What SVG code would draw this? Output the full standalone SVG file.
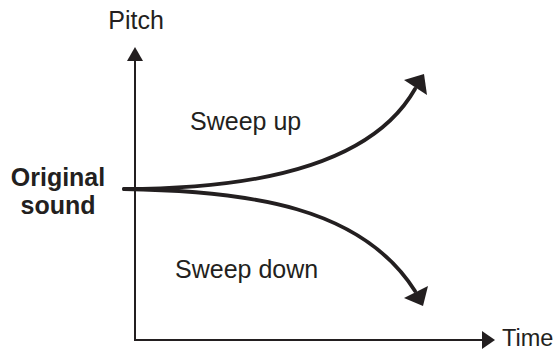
<svg xmlns="http://www.w3.org/2000/svg" width="558" height="351" viewBox="0 0 558 351">
<style>
text{font-family:"Liberation Sans",Arial,sans-serif;font-size:25px;fill:#231f20}
.b{font-weight:bold}
.ax{stroke:#231f20;stroke-width:2;fill:none}
.cv{stroke:#231f20;stroke-width:3.8;fill:none;stroke-linecap:round}
.hd{fill:#231f20}
</style>
<rect width="558" height="351" fill="#fff"/>
<g id="connectors">
<line class="ax" x1="135" y1="341" x2="135" y2="58"/>
<polygon class="hd" points="135,47 127,61 143,61"/>
<line class="ax" x1="134" y1="340" x2="486" y2="340"/>
<polygon class="hd" points="495,340 482,331 482,349"/>
<path class="cv" d="M124,189 C250,189 370,168 415,89"/>
<polygon class="hd" points="424,74 404,80 427,95"/>
<path class="cv" d="M124,189 C250,191 362,207 415,291"/>
<polygon class="hd" points="423,306 404,298 428,286"/>
</g>
<g id="pitch"><text x="136" y="29" text-anchor="middle">Pitch</text></g>
<g id="time"><text x="502" y="346" style="font-size:23.5px">Time</text></g>
<g id="sweep-up"><text x="190" y="130">Sweep up</text></g>
<g id="sweep-down"><text x="175" y="278">Sweep down</text></g>
<g id="original"><text class="b" x="58" y="186" text-anchor="middle">Original</text><text class="b" x="58" y="214" text-anchor="middle">sound</text></g>
</svg>
